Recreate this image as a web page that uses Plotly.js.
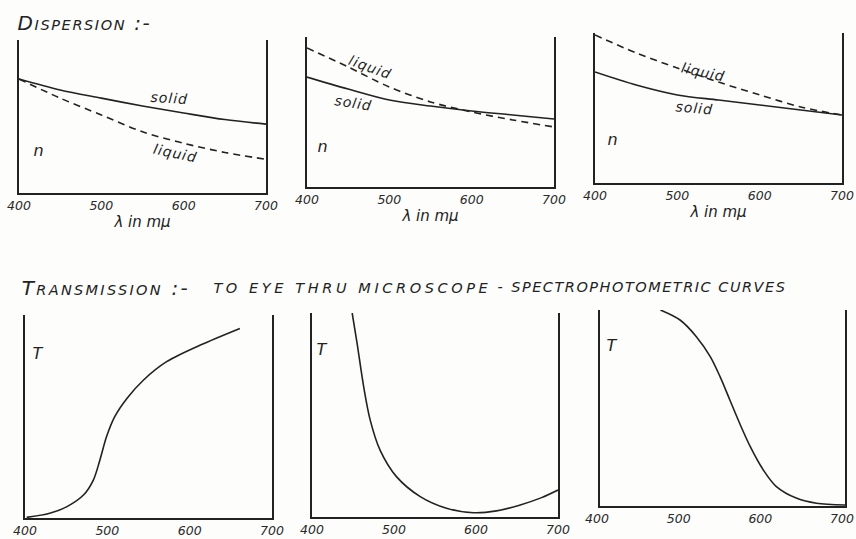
<!DOCTYPE html>
<html>
<head>
<meta charset="utf-8">
<script src="https://cdn.plot.ly/plotly-3.0.1.min.js"></script>
<style>
  html, body { margin: 0; padding: 0; background: #fdfdfc; }
  #chart { width: 856px; height: 539px; }
  g.annotation text { letter-spacing: 1px; }
  g.annotation[data-index="0"] text { letter-spacing: 1.6px; }
  g.annotation[data-index="1"] text { letter-spacing: 2.3px; }
  g.annotation[data-index="2"] text { letter-spacing: 3.6px; }
  g.annotation[data-index="4"] text { letter-spacing: 1.5px; }
</style>
</head>
<body>
<div id="chart"></div>
<script>
// ---- data ----
const tickLabels = [400, 500, 600, 700];
const lambdaD = [400, 450, 500, 550, 600, 650, 700];

// Dispersion panels: refractive index n (relative height)
const disp1Solid  = [0.745, 0.673, 0.620, 0.569, 0.523, 0.480, 0.450];
const disp1Liquid = [0.745, 0.620, 0.510, 0.400, 0.325, 0.265, 0.220];
const disp2Solid  = [0.733, 0.653, 0.580, 0.540, 0.507, 0.480, 0.453];
const disp2Liquid = [0.927, 0.800, 0.667, 0.567, 0.500, 0.447, 0.400];
const disp3Solid  = [0.740, 0.653, 0.587, 0.553, 0.520, 0.487, 0.453];
const disp3Liquid = [0.987, 0.867, 0.767, 0.673, 0.587, 0.507, 0.453];

// Transmission panels: T (relative height)
const trans1Lambda = [402, 430, 451, 471, 483, 491, 499, 509, 524, 544, 572, 613, 661];
const trans1T      = [0.003, 0.023, 0.056, 0.113, 0.187, 0.286, 0.400, 0.499, 0.590, 0.680, 0.770, 0.852, 0.934];
const trans2Lambda = [449, 455, 463, 471, 483, 503, 532, 564, 597, 625, 653, 680, 700];
const trans2T      = [1.000, 0.851, 0.639, 0.475, 0.328, 0.198, 0.100, 0.043, 0.021, 0.030, 0.058, 0.095, 0.132];
const trans3Lambda = [474, 498, 518, 535, 547, 559, 571, 584, 600, 616, 641, 665, 700];
const trans3T      = [1.000, 0.949, 0.864, 0.762, 0.660, 0.541, 0.422, 0.303, 0.184, 0.099, 0.039, 0.014, 0.005];

// ---- layout geometry (pixels) ----
const W = 856, H = 539;
const boxes = [
  {x0: 19,  x1: 266, y0: 40,  y1: 193},
  {x0: 307, x1: 554, y0: 37,  y1: 187},
  {x0: 595, x1: 842, y0: 33,  y1: 183},
  {x0: 25,  x1: 272, y0: 315, y1: 518},
  {x0: 312, x1: 558, y0: 313, y1: 517},
  {x0: 600, x1: 845, y0: 310, y1: 506}
];
const ink = '#222';
const fontFam = 'DejaVu Sans, sans-serif';

const layout = {
  width: W, height: H,
  margin: {l: 0, r: 0, t: 0, b: 0},
  paper_bgcolor: '#fdfdfc',
  plot_bgcolor: 'rgba(0,0,0,0)',
  showlegend: false,
  font: {family: fontFam, color: ink},
  annotations: []
};

boxes.forEach((b, i) => {
  const k = i === 0 ? '' : String(i + 1);
  const xa = {
    domain: [b.x0 / W, b.x1 / W],
    range: [400, 700],
    tickvals: tickLabels,
    ticktext: tickLabels.map(String),
    showgrid: false, zeroline: false,
    showline: true, linecolor: ink, linewidth: 1.7,
    ticks: '',
    ticklabeloverflow: 'allow',
    tickfont: {family: fontFam, size: 12.5, style: 'italic', color: '#2a2a2a'},
    anchor: 'y' + k,
    automargin: false,
    fixedrange: true
  };
  if (i === 5) { xa.ticklabelshift = -3; }
  if (i < 3) {
    xa.title = {text: 'λ in mμ', font: {family: fontFam, size: 15, style: 'italic', color: ink}, standoff: 5};
  }
  const ya = {
    domain: [1 - b.y1 / H, 1 - b.y0 / H],
    range: [0, 1],
    showgrid: false, zeroline: false,
    showline: true, mirror: true, linecolor: ink, linewidth: 1.7,
    showticklabels: false, ticks: '',
    anchor: 'x' + k,
    automargin: false,
    fixedrange: true
  };
  layout['xaxis' + k] = xa;
  layout['yaxis' + k] = ya;
});

// ---- headings (indices 0..4), centred on the span they occupy ----
function paperAnn(text, pxCenter, py, size) {
  return {
    xref: 'paper', yref: 'paper', x: pxCenter / W, y: 1 - py / H,
    xanchor: 'center', yanchor: 'middle', showarrow: false,
    text: text, font: {family: fontFam, size: size, style: 'italic', color: ink}
  };
}
layout.annotations.push(paperAnn("D<span style='font-size:14.5px'>ISPERSION</span> :-", 84, 23, 20));
layout.annotations.push(paperAnn("T<span style='font-size:14.5px'>RANSMISSION</span> :-", 106, 288, 20));
layout.annotations.push(paperAnn("TO EYE THRU MICROSCOPE", 353, 288, 14.5));
layout.annotations.push(paperAnn("-", 500, 287, 14.5));
layout.annotations.push(paperAnn("SPECTROPHOTOMETRIC CURVES", 649, 287, 14.5));

// ---- in-plot labels ----
function dataAnn(k, text, x, y, angle, size) {
  return {
    xref: 'x' + k, yref: 'y' + k, x: x, y: y, showarrow: false,
    text: text, textangle: angle,
    font: {family: fontFam, size: size, style: 'italic', color: ink}
  };
}
layout.annotations.push(dataAnn('', 'solid', 583, 0.62, 4, 14));
layout.annotations.push(dataAnn('', 'liquid', 589, 0.26, 12, 14));
layout.annotations.push(dataAnn('', 'n', 424, 0.28, 0, 16));
layout.annotations.push(dataAnn('2', 'liquid', 476, 0.80, 20, 14));
layout.annotations.push(dataAnn('2', 'solid', 456, 0.56, 9, 14));
layout.annotations.push(dataAnn('2', 'n', 419, 0.27, 0, 16));
layout.annotations.push(dataAnn('3', 'liquid', 531, 0.74, 12, 14));
layout.annotations.push(dataAnn('3', 'solid', 521, 0.50, 5, 14));
layout.annotations.push(dataAnn('3', 'n', 422, 0.29, 0, 16));
layout.annotations.push(dataAnn('4', 'T', 416, 0.81, 0, 16));
layout.annotations.push(dataAnn('5', 'T', 413, 0.82, 0, 16));
layout.annotations.push(dataAnn('6', 'T', 415, 0.82, 0, 16));

// ---- traces ----
function line(k, x, y, dashed) {
  return {
    type: 'scatter', mode: 'lines', x: x, y: y,
    xaxis: 'x' + k, yaxis: 'y' + k,
    line: {color: ink, width: 1.6, shape: 'spline', smoothing: 0.9, dash: dashed ? '7px,5px' : 'solid'},
    hoverinfo: 'skip'
  };
}
const data = [
  line('', lambdaD, disp1Solid, false),
  line('', lambdaD, disp1Liquid, true),
  line('2', lambdaD, disp2Solid, false),
  line('2', lambdaD, disp2Liquid, true),
  line('3', lambdaD, disp3Solid, false),
  line('3', lambdaD, disp3Liquid, true),
  line('4', trans1Lambda, trans1T, false),
  line('5', trans2Lambda, trans2T, false),
  line('6', trans3Lambda, trans3T, false)
];

Plotly.newPlot('chart', data, layout, {staticPlot: true, displayModeBar: false});
</script>
</body>
</html>
